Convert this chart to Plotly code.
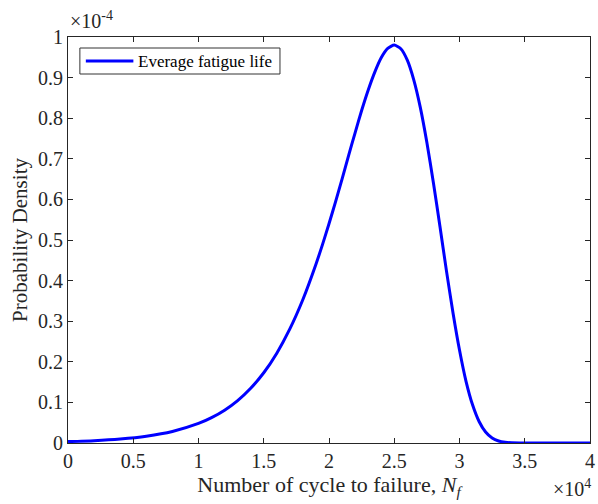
import plotly.graph_objects as go

# Number of cycles to failure (sample points)
cycles = [0, 2000, 4000, 6000, 8000, 10000, 11000, 12000, 13000, 14000, 15000,
          16000, 17000, 18000, 19000, 19500, 20000, 20500, 21000, 21500, 22000,
          22500, 23000, 23500, 24000, 24500, 25000, 25500, 26000, 26500, 27000,
          27500, 28000, 28500, 29000, 29500, 30000, 30500, 31000, 31500, 32000,
          32500, 33000, 33500, 34000, 35000, 36000, 38000, 40000]
# Probability density, in units of 1e-4
density_e4 = [0.0034, 0.0058, 0.0099, 0.0168, 0.0284, 0.0481, 0.0625, 0.0809,
              0.1046, 0.1349, 0.173, 0.2213, 0.281, 0.3535, 0.4404, 0.4886,
              0.540, 0.594, 0.650, 0.708, 0.764, 0.819, 0.869, 0.913, 0.949,
              0.972, 0.980, 0.971, 0.943, 0.894, 0.826, 0.740, 0.641, 0.534,
              0.424, 0.321, 0.229, 0.152, 0.094, 0.053, 0.027, 0.0123, 0.0049,
              0.0017, 0.0005, 0.0, 0.0, 0.0, 0.0]
density = [v * 1e-4 for v in density_e4]

x_ticks = [0, 5000, 10000, 15000, 20000, 25000, 30000, 35000, 40000]
x_ticktext = ["0", "0.5", "1", "1.5", "2", "2.5", "3", "3.5", "4"]
y_ticks = [i * 1e-5 for i in range(11)]
y_ticktext = ["0", "0.1", "0.2", "0.3", "0.4", "0.5", "0.6", "0.7", "0.8", "0.9", "1"]

series_name = "Everage fatigue life"

FONT = "Liberation Serif"
AX = "#262626"
BLUE = "#0000FF"

fig = go.Figure()
fig.add_trace(go.Scatter(x=cycles, y=density, mode="lines",
                         line=dict(color=BLUE, width=3, shape="spline", smoothing=0.6),
                         name=series_name, showlegend=False))

axis_common = dict(showline=True, linecolor=AX, linewidth=1, mirror="ticks",
                   ticks="inside", ticklen=5, tickcolor=AX, showgrid=False,
                   zeroline=False, ticklabeloverflow="allow",
                   tickfont=dict(family=FONT, size=20, color=AX))

fig.update_layout(
    width=598, height=504,
    margin=dict(l=68, r=3, t=37, b=61),
    paper_bgcolor="white", plot_bgcolor="white",
    font=dict(family=FONT, color=AX),
    showlegend=False,
    xaxis=dict(range=[0, 40000], tickvals=x_ticks, ticktext=x_ticktext,
               title=dict(text="Number of cycle to failure, <i>N</i><sub><i>f</i></sub>",
                          font=dict(family=FONT, size=22, color=AX), standoff=2),
               **axis_common),
    yaxis=dict(range=[0, 1e-4], tickvals=y_ticks, ticktext=y_ticktext,
               title=dict(text="Probability Density",
                          font=dict(family=FONT, size=21, color=AX), standoff=4),
               **axis_common),
)

# Legend box (MATLAB style)
fig.add_shape(type="rect", xref="paper", yref="paper",
              x0=12 / 527, x1=214 / 527, y0=1 - 37 / 406, y1=1 - 11 / 406,
              line=dict(color="#333333", width=1), fillcolor="white")
fig.add_shape(type="line", xref="paper", yref="paper",
              x0=18 / 527, x1=66 / 527, y0=1 - 24 / 406, y1=1 - 24 / 406,
              line=dict(color=BLUE, width=3))
fig.add_annotation(text=series_name, xref="paper", yref="paper",
                   x=69 / 527, y=1 - 24 / 406, xanchor="left", yanchor="middle",
                   showarrow=False, font=dict(family=FONT, size=17, color="black"))

fig.add_annotation(text="×10<sup>-4</sup>", xref="paper", yref="paper",
                   x=0.0, y=1.0, xanchor="left", yanchor="bottom", yshift=3,
                   showarrow=False, font=dict(family=FONT, size=20, color=AX))
fig.add_annotation(text="×10<sup>4</sup>", xref="paper", yref="paper",
                   x=1.0, y=0.0, xanchor="right", yanchor="top", yshift=-31, xshift=3,
                   showarrow=False, font=dict(family=FONT, size=20, color=AX))

fig.write_html("out.html")
